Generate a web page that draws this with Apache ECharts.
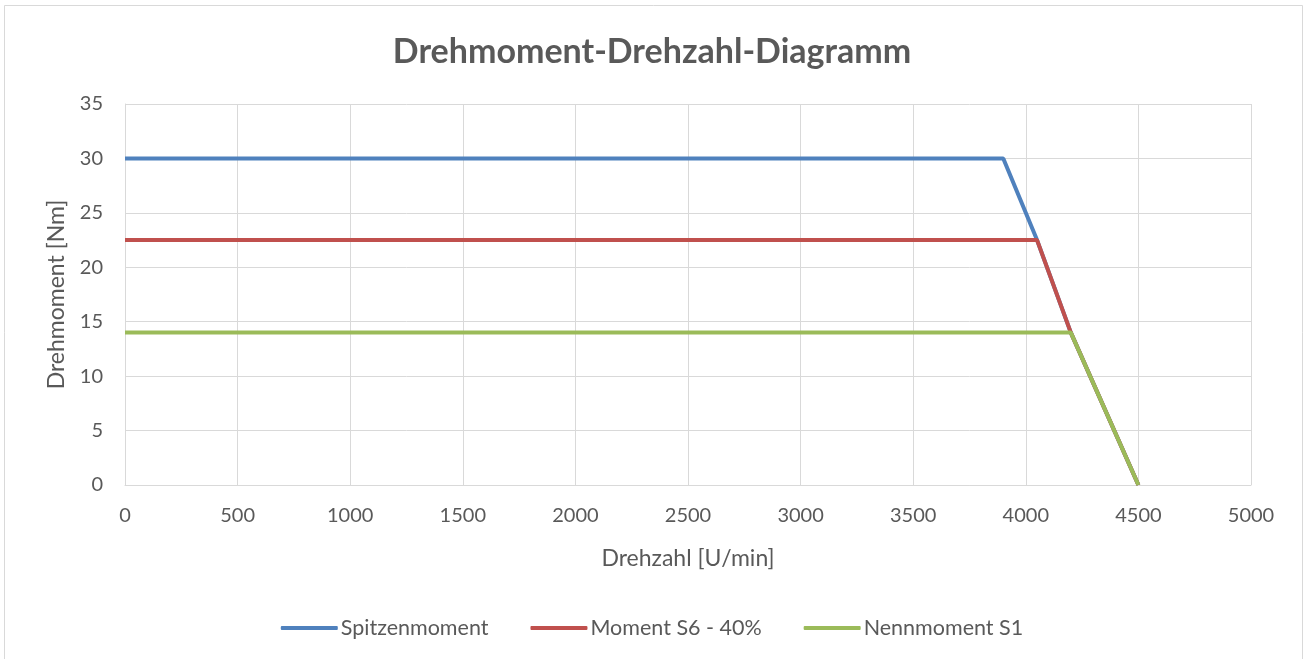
<!DOCTYPE html>
<html>
<head>
<meta charset="utf-8">
<script src="https://cdn.jsdelivr.net/npm/echarts@6/dist/echarts.min.js"></script>
<style>
html,body{margin:0;padding:0;background:#fff;}
#c{width:1304px;height:659px;}
</style>
</head>
<body>
<div id="c"></div>
<script>
const seriesNames = ['Spitzenmoment', 'Moment S6 - 40%', 'Nennmoment S1'];
const spitzenX = [0, 3900, 4050, 4200, 4500];
const spitzenY = [30, 30, 22.5, 14, 0];
const s6X = [0, 4050, 4200, 4500];
const s6Y = [22.5, 22.5, 14, 0];
const s1X = [0, 4200, 4500];
const s1Y = [14, 14, 0];
const colors = ['#4f81bd', '#c0504d', '#9bbb59'];

function pairs(xs, ys){ return xs.map((x,i)=>[x, ys[i]]); }

const FONT = 'Lato, "Open Sans", sans-serif';
const chart = echarts.init(document.getElementById('c'));
chart.setOption({
  animation: false,
  backgroundColor: '#fff',
  textStyle: {fontFamily: FONT},
  title: {
    text: 'Drehmoment-Drehzahl-Diagramm',
    left: 'center', top: 30,
    textStyle: {fontSize: 34, fontWeight: 'bold', color: '#595959', fontFamily: FONT}
  },
  graphic: [{
    type: 'rect', shape: {x: 4.5, y: 5.5, width: 1298, height: 700},
    style: {fill: 'none', stroke: '#d9d9d9', lineWidth: 1}, silent: true, z: -1
  }],
  legend: {
    bottom: 15, left: 'center',
    itemWidth: 57, itemHeight: 4, itemGap: 42,
    icon: 'roundRect',
    textStyle: {fontSize: 21.5, color: '#595959', fontFamily: FONT, padding: [0,0,0,-2]},
    data: seriesNames
  },
  grid: {left: 125, right: 53, top: 104, bottom: 174, containLabel: false},
  xAxis: {
    type: 'value', min: 0, max: 5000, interval: 500,
    name: 'Drehzahl [U/min]', nameLocation: 'middle', nameGap: 62,
    nameTextStyle: {fontSize: 23, color: '#595959'},
    axisLine: {show: true, lineStyle: {color: '#d9d9d9', width: 1}},
    axisTick: {show: false},
    axisLabel: {fontSize: 20, color: '#595959', margin: 21, formatter: v => String(v)},
    splitLine: {show: true, lineStyle: {color: '#d9d9d9', width: 1}}
  },
  yAxis: {
    type: 'value', min: 0, max: 35, interval: 5,
    name: 'Drehmoment [Nm]', nameLocation: 'middle', nameGap: 57, nameRotate: 90,
    nameTextStyle: {fontSize: 23, color: '#595959'},
    axisLine: {show: true, lineStyle: {color: '#d9d9d9', width: 1}},
    axisTick: {show: false},
    axisLabel: {fontSize: 20, color: '#595959', margin: 22, formatter: v => String(v)},
    splitLine: {show: true, lineStyle: {color: '#d9d9d9', width: 1}}
  },
  series: [
    {name: seriesNames[0], type: 'line', data: pairs(spitzenX, spitzenY), showSymbol: false, symbol: 'none',
     lineStyle: {color: colors[0], width: 4}, itemStyle: {color: colors[0]}, z: 2},
    {name: seriesNames[1], type: 'line', data: pairs(s6X, s6Y), showSymbol: false, symbol: 'none',
     lineStyle: {color: colors[1], width: 4}, itemStyle: {color: colors[1]}, z: 3},
    {name: seriesNames[2], type: 'line', data: pairs(s1X, s1Y), showSymbol: false, symbol: 'none',
     lineStyle: {color: colors[2], width: 4}, itemStyle: {color: colors[2]}, z: 4}
  ]
});
</script>
</body>
</html>
